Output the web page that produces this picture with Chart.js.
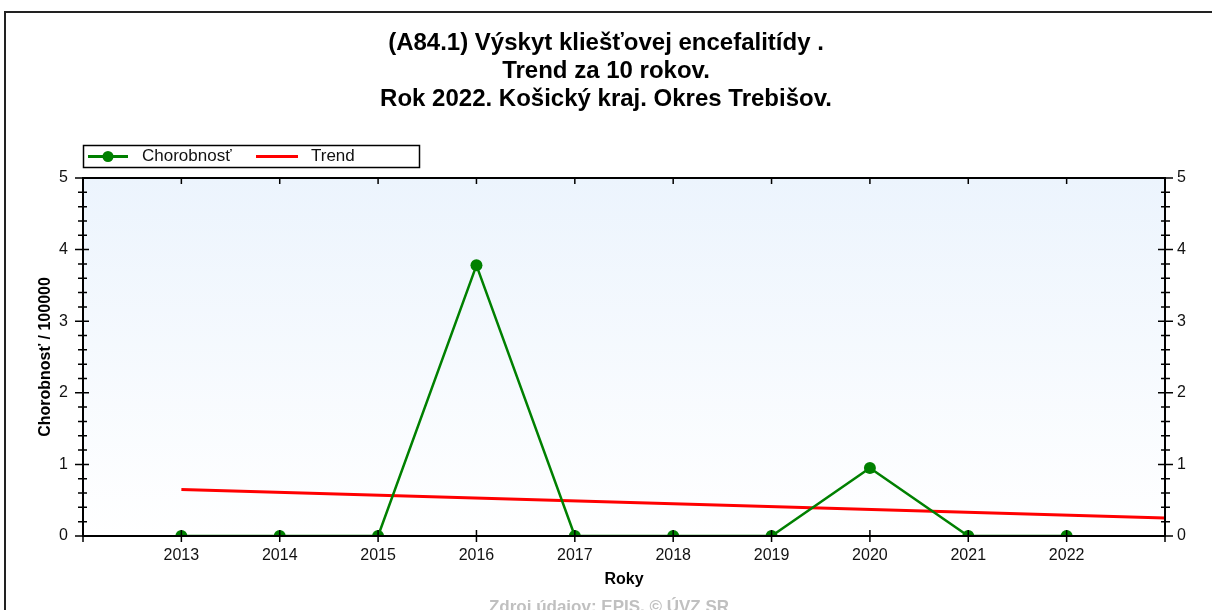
<!DOCTYPE html>
<html>
<head>
<meta charset="utf-8">
<title>Chorobnosť - trend</title>
<script src="https://cdn.jsdelivr.net/npm/chart.js@4/dist/chart.umd.min.js"></script>
<style>
html, body { margin: 0; padding: 0; background: #fff; }
#wrap { width: 1212px; height: 610px; position: relative; }
</style>
</head>
<body>
<div id="wrap"><canvas id="chart"></canvas></div>
<script>
// data
var years = [2013, 2014, 2015, 2016, 2017, 2018, 2019, 2020, 2021, 2022];
var chorobnost = [0, 0, 0, 3.78, 0, 0, 0, 0.95, 0, 0];
// trend line, start and end as seen in the chart
var trendYears = [2013, 2023];
var trendValues = [0.65, 0.25];
var yTicks = [0, 1, 2, 3, 4, 5];
var xMin = 2012, xMax = 2023;

var titleLines = [
    "(A84.1) Výskyt kliešťovej encefalitídy .",
    "Trend za 10 rokov.",
    "Rok 2022. Košický kraj. Okres Trebišov."
];
var xTitle = "Roky";
var yTitle = "Chorobnosť / 100000";
var seriesNames = ["Chorobnosť", "Trend"];
var sourceText = "Zdroj údajov: EPIS, © ÚVZ SR";

var FONT = "'Liberation Sans', Arial, sans-serif";
var GREEN = "#008000";
var RED = "#ff0000";

function toPoints(xs, ys) {
    var out = [];
    for (var i = 0; i < xs.length; i++) out.push({x: xs[i], y: ys[i]});
    return out;
}

// background, frame, ticks, legend and source line
var decorPlugin = {
    id: "decor",
    beforeDraw: function (chart) {
        var ctx = chart.ctx, a = chart.chartArea;
        ctx.save();
        ctx.fillStyle = "#fff";
        ctx.fillRect(0, 0, chart.width, chart.height);
        // outer frame (top and left edges visible)
        ctx.strokeStyle = "#222";
        ctx.lineWidth = 2;
        ctx.beginPath();
        ctx.moveTo(5, chart.height);
        ctx.lineTo(5, 12);
        ctx.lineTo(chart.width, 12);
        ctx.stroke();
        // plot background
        var g = ctx.createLinearGradient(0, a.top, 0, a.bottom);
        g.addColorStop(0, "#ecf4fd");
        g.addColorStop(1, "#ffffff");
        ctx.fillStyle = g;
        ctx.fillRect(a.left, a.top, a.right - a.left, a.bottom - a.top);
        ctx.restore();
    },
    afterDraw: function (chart) {
        var ctx = chart.ctx, a = chart.chartArea;
        var x = chart.scales.x, yl = chart.scales.y;
        ctx.save();
        ctx.strokeStyle = "#000";
        ctx.lineWidth = 2;
        ctx.strokeRect(a.left, a.top, a.right - a.left, a.bottom - a.top);

        ctx.lineWidth = 1.5;
        ctx.beginPath();
        // y ticks, major + 4 minor per unit
        for (var i = 0; i < yTicks.length; i++) {
            var py = yl.getPixelForValue(yTicks[i]);
            ctx.moveTo(a.left - 8, py); ctx.lineTo(a.left + 6, py);
            ctx.moveTo(a.right - 7, py); ctx.lineTo(a.right + 8, py);
            if (i < yTicks.length - 1) {
                var step = (yTicks[i + 1] - yTicks[i]) / 5;
                for (var k = 1; k < 5; k++) {
                    var my = yl.getPixelForValue(yTicks[i] + step * k);
                    ctx.moveTo(a.left - 5, my); ctx.lineTo(a.left + 4, my);
                    ctx.moveTo(a.right - 4, my); ctx.lineTo(a.right + 5, my);
                }
            }
        }
        // x ticks
        for (var yr = xMin; yr <= xMax; yr++) {
            var px = x.getPixelForValue(yr);
            ctx.moveTo(px, a.bottom - 6); ctx.lineTo(px, a.bottom + 6);
            ctx.moveTo(px, a.top); ctx.lineTo(px, a.top + 6);
        }
        ctx.stroke();

        // legend
        var lx = 83, ly = 145, lw = 336, lh = 22, cy = ly + lh / 2 + 0.5;
        ctx.lineWidth = 1.5;
        ctx.strokeStyle = "#000";
        ctx.strokeRect(lx + 0.5, ly + 0.5, lw, lh);
        ctx.lineWidth = 3;
        ctx.strokeStyle = GREEN;
        ctx.beginPath(); ctx.moveTo(88, cy); ctx.lineTo(128, cy); ctx.stroke();
        ctx.fillStyle = GREEN;
        ctx.beginPath(); ctx.arc(108, cy, 5.5, 0, Math.PI * 2); ctx.fill();
        ctx.strokeStyle = RED;
        ctx.beginPath(); ctx.moveTo(256, cy); ctx.lineTo(298, cy); ctx.stroke();
        ctx.fillStyle = "#111";
        ctx.font = "17px " + FONT;
        ctx.textBaseline = "middle";
        ctx.textAlign = "left";
        ctx.fillText(seriesNames[0], 142, cy);
        ctx.fillText(seriesNames[1], 311, cy);

        // source line at the bottom
        ctx.fillStyle = "#c0c0c0";
        ctx.font = "bold 17px " + FONT;
        ctx.textAlign = "center";
        ctx.textBaseline = "alphabetic";
        ctx.fillText(sourceText, 609, 612);
        ctx.restore();
    }
};

var ctx = document.getElementById("chart");
new Chart(ctx, {
    type: "line",
    data: {
        datasets: [
            {
                label: seriesNames[0],
                data: toPoints(years, chorobnost),
                borderColor: GREEN,
                backgroundColor: GREEN,
                borderWidth: 2.5,
                pointRadius: 6,
                pointBackgroundColor: GREEN,
                pointBorderColor: GREEN,
                pointBorderWidth: 0,
                tension: 0,
                clip: 0,
                order: 1
            },
            {
                label: seriesNames[1],
                data: toPoints(trendYears, trendValues),
                borderColor: RED,
                borderWidth: 3,
                pointRadius: 0,
                tension: 0,
                order: 2
            }
        ]
    },
    options: {
        responsive: true,
        maintainAspectRatio: false,
        animation: false,
        layout: {padding: 0},
        plugins: {
            legend: {display: false},
            tooltip: {enabled: false},
            title: {
                display: true,
                text: titleLines,
                color: "#000",
                font: {family: FONT, size: 24, weight: "bold", lineHeight: "28px"},
                padding: {top: 29, bottom: 65}
            }
        },
        scales: {
            x: {
                type: "linear",
                min: xMin,
                max: xMax,
                grid: {display: false, drawTicks: false},
                border: {display: false},
                afterFit: function (s) { s.height = 74; },
                afterBuildTicks: function (s) {
                    s.ticks = years.map(function (v) { return {value: v}; });
                },
                ticks: {
                    autoSkip: false,
                    maxRotation: 0,
                    padding: 10,
                    color: "#111",
                    font: {family: FONT, size: 16},
                    callback: function (v) { return String(v); }
                },
                title: {
                    display: true,
                    text: xTitle,
                    color: "#000",
                    font: {family: FONT, size: 16, weight: "bold"},
                    padding: {top: 0, bottom: 21}
                }
            },
            y: {
                position: "left",
                min: 0,
                max: 5,
                grid: {display: false, drawTicks: false},
                border: {display: false},
                afterFit: function (s) { s.width = 83; },
                afterBuildTicks: function (s) {
                    s.ticks = yTicks.map(function (v) { return {value: v}; });
                },
                ticks: {
                    padding: 15,
                    color: "#111",
                    font: {family: FONT, size: 16}
                },
                title: {
                    display: true,
                    text: yTitle,
                    color: "#000",
                    font: {family: FONT, size: 16, weight: "bold"},
                    padding: {top: 36, bottom: 0}
                }
            },
            y2: {
                position: "right",
                min: 0,
                max: 5,
                grid: {display: false, drawTicks: false},
                border: {display: false},
                afterFit: function (s) { s.width = 47; },
                afterBuildTicks: function (s) {
                    s.ticks = yTicks.map(function (v) { return {value: v}; });
                },
                ticks: {
                    padding: 12,
                    color: "#111",
                    font: {family: FONT, size: 16}
                }
            }
        }
    },
    plugins: [decorPlugin]
});
</script>
</body>
</html>
